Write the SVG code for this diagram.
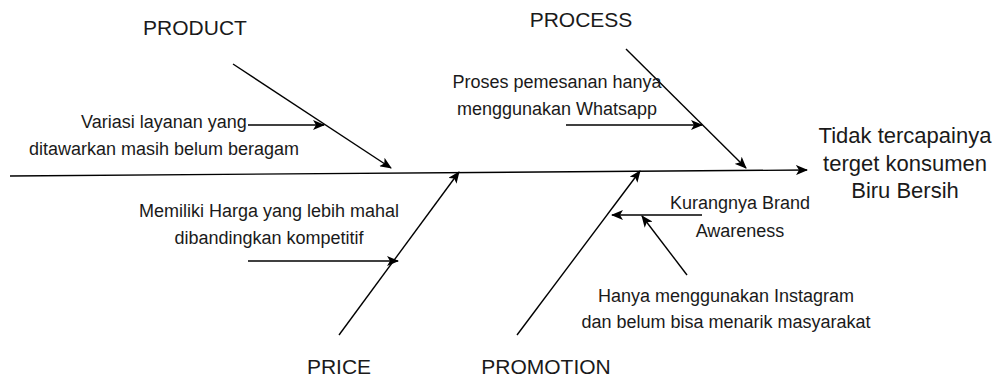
<svg xmlns="http://www.w3.org/2000/svg" width="998" height="378" viewBox="0 0 998 378">
<style>
  .ln{stroke:#000;stroke-width:1.4;fill:none;marker-end:url(#ah)}
  text{font-family:"Liberation Sans",Arial,Helvetica,sans-serif;fill:#1a1a1a;text-anchor:middle}
  .cat{font-size:21px}
  .cause{font-size:18px}
  .head{font-size:22px}
</style>
<defs>
  <marker id="ah" viewBox="0 0 12 10" refX="11" refY="5" markerWidth="12" markerHeight="10" markerUnits="userSpaceOnUse" orient="auto">
    <path d="M0,0 L12,5 L0,10 L3,5 z" fill="#000"/>
  </marker>
</defs>
<rect width="998" height="378" fill="#fff"/>
<g id="connectors">
  <line class="ln" x1="10" y1="176" x2="807" y2="170"/>
  <line class="ln" x1="233" y1="64" x2="391" y2="168"/>
  <line class="ln" x1="626" y1="49" x2="746" y2="168"/>
  <line class="ln" x1="339" y1="335" x2="459" y2="172"/>
  <line class="ln" x1="517" y1="335" x2="640" y2="171"/>
  <line class="ln" x1="248" y1="125" x2="324" y2="125"/>
  <line class="ln" x1="566" y1="125" x2="702" y2="125"/>
  <line class="ln" x1="248" y1="261" x2="398" y2="261"/>
  <line class="ln" x1="702" y1="215" x2="612" y2="215"/>
  <line class="ln" x1="687" y1="275" x2="642" y2="216"/>
</g>
<g id="product"><text class="cat" x="195" y="35">PRODUCT</text></g>
<g id="process"><text class="cat" x="581" y="27">PROCESS</text></g>
<g id="price"><text class="cat" x="339" y="374">PRICE</text></g>
<g id="promotion"><text class="cat" x="546" y="374">PROMOTION</text></g>
<g id="cause-variasi"><text class="cause" x="164" y="128">Variasi layanan yang</text><text class="cause" x="164" y="155">ditawarkan masih belum beragam</text></g>
<g id="cause-proses"><text class="cause" x="557" y="88">Proses pemesanan hanya</text><text class="cause" x="557" y="115">menggunakan Whatsapp</text></g>
<g id="cause-harga"><text class="cause" x="269" y="217">Memiliki Harga yang lebih mahal</text><text class="cause" x="269" y="244">dibandingkan kompetitif</text></g>
<g id="cause-brand"><text class="cause" x="740" y="209">Kurangnya Brand</text><text class="cause" x="740" y="237">Awareness</text></g>
<g id="cause-instagram"><text class="cause" x="726" y="302">Hanya menggunakan Instagram</text><text class="cause" x="726" y="328">dan belum bisa menarik masyarakat</text></g>
<g id="effect"><text class="head" x="905" y="143">Tidak tercapainya</text><text class="head" x="905" y="171">terget konsumen</text><text class="head" x="905" y="198">Biru Bersih</text></g>
</svg>
